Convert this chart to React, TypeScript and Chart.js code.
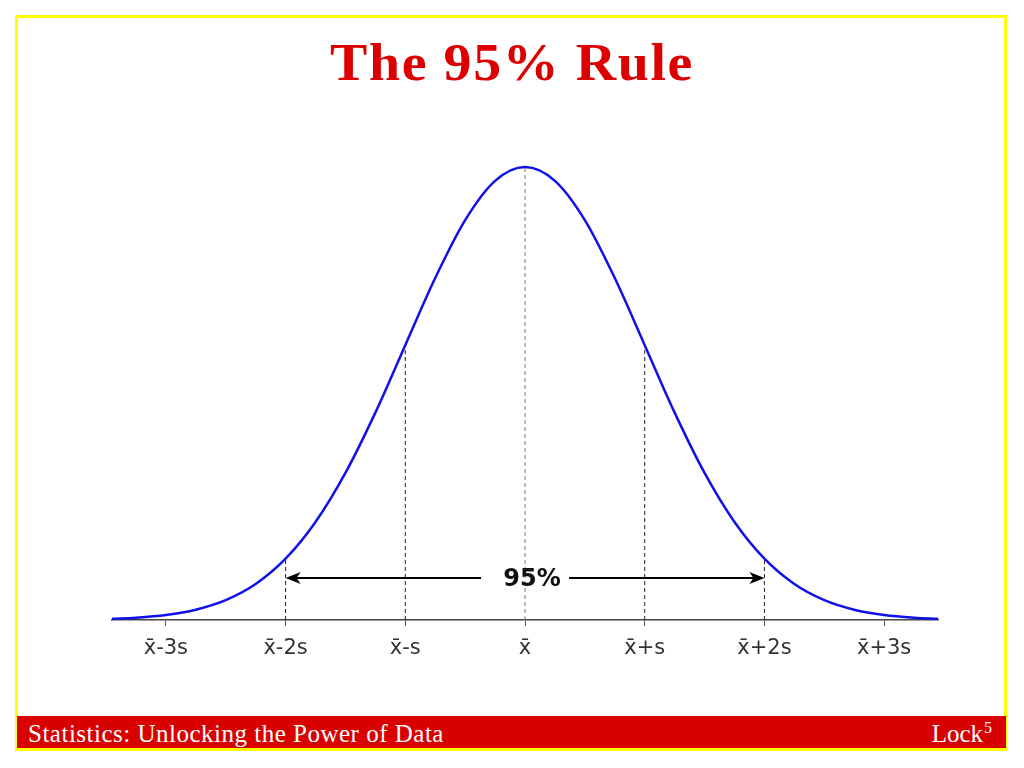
import React, { useEffect, useRef } from "react";
import { Chart, registerables } from "chart.js";

Chart.register(...registerables);

// Curve heights (density units, peak ≈ 0.399)
const curveX = [-3.45, -3.25, -3.0, -2.75, -2.5, -2.25, -2.0, -1.75, -1.5, -1.25, -1.0, -0.75, -0.5, -0.25, 0,
  0.25, 0.5, 0.75, 1.0, 1.25, 1.5, 1.75, 2.0, 2.25, 2.5, 2.75, 3.0, 3.25, 3.45];
const curveY = [0.001, 0.002, 0.0044, 0.0091, 0.0175, 0.0317, 0.054, 0.0863, 0.1295, 0.1826, 0.242, 0.3011, 0.3521, 0.3867, 0.3989,
  0.3867, 0.3521, 0.3011, 0.242, 0.1826, 0.1295, 0.0863, 0.054, 0.0317, 0.0175, 0.0091, 0.0044, 0.002, 0.001];

// Dashed guide lines
const guideX = [-2, -1, 0, 1, 2];
const guideTop = [0.054, 0.242, 0.3989, 0.242, 0.054];

// Axis ticks
const tickValues = [-3, -2, -1, 0, 1, 2, 3];
const tickLabels = ["x\u0304-3s", "x\u0304-2s", "x\u0304-s", "x\u0304", "x\u0304+s", "x\u0304+2s", "x\u0304+3s"];

// Arrow annotation
const arrowFrom = -2;
const arrowTo = 2;
const arrowY = 0.037;
const arrowLabel = "95%";

const title = "The 95% Rule";
const footerLeft = "Statistics: Unlocking the Power of Data";
const footerRight = "Lock";
const footerSup = "5";

const arrowPlugin = {
  id: "arrow95",
  afterDatasetsDraw(chart: any) {
    const { ctx, scales } = chart;
    const xs = scales.x;
    const ys = scales.y;
    const x1 = xs.getPixelForValue(arrowFrom);
    const x2 = xs.getPixelForValue(arrowTo);
    const y = ys.getPixelForValue(arrowY);
    const cx = xs.getPixelForValue((arrowFrom + arrowTo) / 2);
    const gap = 44;
    ctx.save();
    ctx.strokeStyle = "#000";
    ctx.fillStyle = "#000";
    ctx.lineWidth = 2;
    ctx.beginPath();
    ctx.moveTo(x1 + 8, y);
    ctx.lineTo(cx - gap, y);
    ctx.moveTo(cx + gap, y);
    ctx.lineTo(x2 - 8, y);
    ctx.stroke();
    const head = (tip: number, dir: number) => {
      ctx.beginPath();
      ctx.moveTo(tip, y);
      ctx.lineTo(tip - dir * 15, y - 6);
      ctx.lineTo(tip - dir * 11, y);
      ctx.lineTo(tip - dir * 15, y + 6);
      ctx.closePath();
      ctx.fill();
    };
    head(x1, -1);
    head(x2, 1);
    ctx.font = "bold 24px 'DejaVu Sans'";
    ctx.textAlign = "center";
    ctx.textBaseline = "middle";
    ctx.fillStyle = "#111";
    ctx.fillText(arrowLabel, cx + 7, y + 2);
    ctx.restore();
  },
};

export default function App() {
  const ref = useRef<HTMLCanvasElement | null>(null);

  useEffect(() => {
    if (!ref.current) return;
    const guideSets = guideX.map((gx, i) => ({
      data: [
        { x: gx, y: 0 },
        { x: gx, y: guideTop[i] },
      ],
      borderColor: gx === 0 ? "#7a7a7a" : "#222",
      borderWidth: 1,
      borderDash: [4, 3],
      pointRadius: 0,
      fill: false,
      order: 2,
    }));
    const chart = new Chart(ref.current, {
      type: "line",
      data: {
        datasets: [
          {
            data: curveX.map((x, i) => ({ x, y: curveY[i] })),
            borderColor: "#1010ea",
            borderWidth: 2.5,
            pointRadius: 0,
            cubicInterpolationMode: "monotone",
            fill: false,
            order: 1,
          },
          ...guideSets,
        ] as any,
      },
      options: {
        animation: false,
        responsive: false,
        devicePixelRatio: 1,
        layout: { padding: { left: 112, right: 86, top: 143, bottom: 108 } },
        plugins: { legend: { display: false }, tooltip: { enabled: false } },
        scales: {
          x: {
            type: "linear",
            min: -3.45,
            max: 3.45,
            afterBuildTicks: (scale: any) => {
              scale.ticks = tickValues.map((v) => ({ value: v }));
            },
            afterFit: (scale: any) => {
              scale.height = 40;
            },
            ticks: {
              autoSkip: false,
              maxRotation: 0,
              padding: 10,
              color: "#333",
              font: { family: "'DejaVu Sans'", size: 21 },
              callback: (v: any) => {
                const i = tickValues.indexOf(Number(v));
                return i >= 0 ? tickLabels[i] : "";
              },
            },
            grid: { drawOnChartArea: false, drawTicks: true, tickLength: 6, color: "#555" },
            border: { display: true, color: "#444", width: 1.5 },
          },
          y: { display: false, min: 0, max: 0.42 },
        },
      },
      plugins: [arrowPlugin],
    });
    return () => chart.destroy();
  }, []);

  return (
    <div style={{ position: "fixed", left: 0, top: 0, width: 1024, height: 768, background: "#fff", overflow: "hidden" }}>
      <div
        style={{
          position: "absolute",
          left: 15,
          top: 15,
          width: 992,
          height: 736,
          border: "3px solid #ffff00",
          boxSizing: "border-box",
        }}
      />
      <canvas ref={ref} width={1024} height={768} style={{ position: "absolute", left: 0, top: 0, width: 1024, height: 768 }} />
      <div
        style={{
          position: "absolute",
          left: 0,
          top: 36,
          width: 1024,
          textAlign: "center",
          fontFamily: "'Liberation Serif', serif",
          fontWeight: "bold",
          fontSize: 53,
          letterSpacing: 1.5,
          lineHeight: 1,
          color: "#dd0000",
          transform: "scaleX(1.055)",
          transformOrigin: "512px 0",
          whiteSpace: "nowrap",
        }}
      >
        {title}
      </div>
      <div
        style={{
          position: "absolute",
          left: 17,
          top: 716,
          width: 989,
          height: 32,
          background: "#d90000",
        }}
      />
      <div
        style={{
          position: "absolute",
          left: 28,
          top: 721,
          color: "#fff",
          fontFamily: "'Liberation Serif', serif",
          fontSize: 25,
          letterSpacing: 0.5,
          lineHeight: 1,
          whiteSpace: "nowrap",
        }}
      >
        {footerLeft}
      </div>
      <div
        style={{
          position: "absolute",
          right: 1024 - 992,
          top: 721,
          color: "#fff",
          fontFamily: "'Liberation Serif', serif",
          fontSize: 25,
          lineHeight: 1,
          whiteSpace: "nowrap",
        }}
      >
        {footerRight}
        <span style={{ fontSize: 16, position: "relative", top: -9, marginLeft: 1 }}>{footerSup}</span>
      </div>
    </div>
  );
}
